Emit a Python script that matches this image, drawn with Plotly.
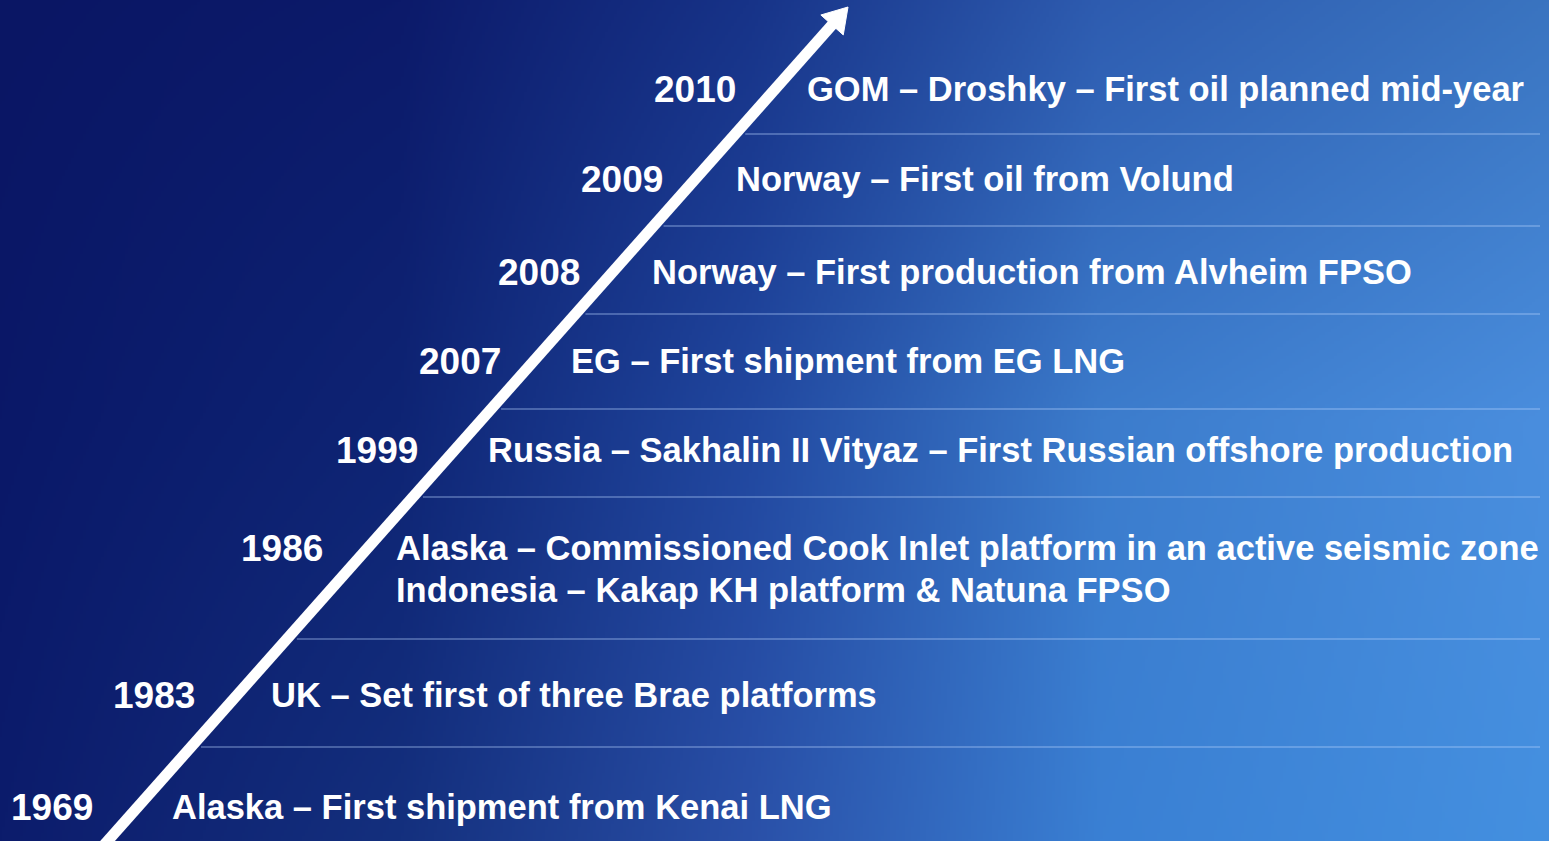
import numpy as np
import plotly.graph_objects as go

W, H = 1549, 841

# ---- data ----
years = ["2010", "2009", "2008", "2007", "1999", "1986", "1983", "1969"]
events = [
    ["GOM – Droshky – First oil planned mid-year"],
    ["Norway – First oil from Volund"],
    ["Norway – First production from Alvheim FPSO"],
    ["EG – First shipment from EG LNG"],
    ["Russia – Sakhalin II Vityaz – First Russian offshore production"],
    ["Alaska – Commissioned Cook Inlet platform in an active seismic zone",
     "Indonesia – Kakap KH platform & Natuna FPSO"],
    ["UK – Set first of three Brae platforms"],
    ["Alaska – First shipment from Kenai LNG"],
]

# ---- layout (pixel positions) ----
row_y = [89, 179, 272, 361, 450, 548, 695, 807]
year_right = [738, 665, 582, 503, 420, 325, 197, 95]
event_left = [805, 734, 650, 569, 486, 394, 269, 170]
line_gap = 42
sep_y = [134, 226, 314, 409, 497, 639, 747]
sep_right = 1540

arrow_start = (104, 845)
arrow_tip = (848, 7)
shaft_w = 11
head_len = 24
head_half = 15

# ---- background gradient (image) ----
cx = np.array([0, 400, 750, 1100, 1549], dtype=float)
cy = np.array([0, 420, 841], dtype=float)
hexgrid = [
    ["#0a1664", "#0c1a6a", "#173388", "#2e5cb0", "#3a74c0"],
    ["#0a1868", "#0e2474", "#2148a0", "#3c7ccc", "#4a8ede"],
    ["#0c1c6c", "#14307e", "#2a50a8", "#3a80d4", "#4490e0"],
]
def h2rgb(h):
    return [int(h[i:i + 2], 16) for i in (1, 3, 5)]
grid = np.array([[h2rgb(c) for c in row] for row in hexgrid], dtype=float)

step = 3
xs = np.arange(0, W + step, step, dtype=float)
ys = np.arange(0, H + step, step, dtype=float)
rows_interp = np.zeros((len(cy), len(xs), 3))
for r in range(len(cy)):
    for ch in range(3):
        rows_interp[r, :, ch] = np.interp(xs, cx, grid[r, :, ch])
img = np.zeros((len(ys), len(xs), 3))
for j in range(len(xs)):
    for ch in range(3):
        img[:, j, ch] = np.interp(ys, cy, rows_interp[:, j, ch])
img = np.clip(img, 0, 255).astype(np.uint8)

fig = go.Figure()
fig.add_trace(go.Image(z=img, x0=0, dx=step, y0=0, dy=step, hoverinfo="skip"))

# ---- arrow ----
ax0, ay0 = arrow_start
tx, ty = arrow_tip
dx, dy = tx - ax0, ty - ay0
L = np.hypot(dx, dy)
ux, uy = dx / L, dy / L
px, py = -uy, ux
bx, by = tx - ux * head_len, ty - uy * head_len
fig.add_trace(go.Scatter(x=[ax0, bx + ux * 2], y=[ay0, by + uy * 2], mode="lines",
                         line=dict(color="white", width=shaft_w), hoverinfo="skip"))
fig.add_trace(go.Scatter(
    x=[tx, bx + px * head_half, bx - px * head_half, tx],
    y=[ty, by + py * head_half, by - py * head_half, ty],
    mode="lines", fill="toself", fillcolor="white",
    line=dict(color="white", width=1), hoverinfo="skip"))

def arrow_x(y):
    return ax0 + (y - ay0) / dy * dx

# ---- separator lines ----
for y in sep_y:
    fig.add_shape(type="line", x0=arrow_x(y) + 10, x1=sep_right, y0=y, y1=y,
                  line=dict(color="rgba(185,212,255,0.65)", width=1.2), layer="above")

# ---- text ----
font_y = dict(family="Liberation Sans, Arial, sans-serif", size=37, color="white")
font_e = dict(family="Liberation Sans, Arial, sans-serif", size=34.5, color="white")
for i, yr in enumerate(years):
    fig.add_annotation(x=year_right[i], y=row_y[i], text="<b>%s</b>" % yr,
                       xanchor="right", yanchor="middle", showarrow=False, font=font_y)
    for k, ev in enumerate(events[i]):
        fig.add_annotation(x=event_left[i], y=row_y[i] + k * line_gap, text="<b>%s</b>" % ev,
                           xanchor="left", yanchor="middle", showarrow=False, font=font_e)

fig.update_layout(
    width=W, height=H, margin=dict(l=0, r=0, t=0, b=0),
    paper_bgcolor="#0a1664", plot_bgcolor="#0a1664", showlegend=False,
    xaxis=dict(range=[0, W], visible=False, fixedrange=True),
    yaxis=dict(range=[H, 0], visible=False, fixedrange=True),
)
fig.write_html("out.html", config={"displayModeBar": False},
               post_script="document.body.style.margin='0';document.body.style.overflow='hidden';")
